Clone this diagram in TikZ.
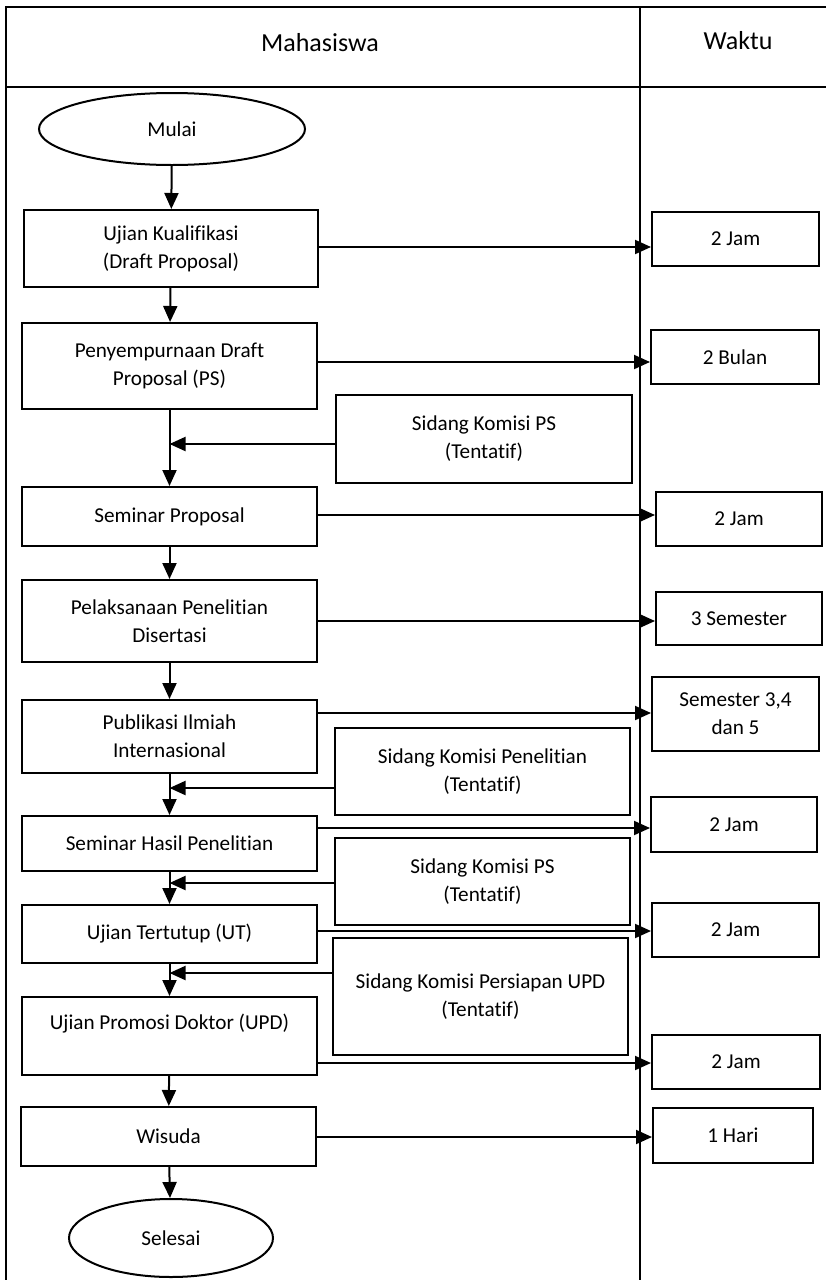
\documentclass[tikz,border=0pt]{standalone}
\usepackage{fontspec}
\setmainfont{Carlito}[Ligatures=NoCommon]
\usetikzlibrary{arrows.meta,shapes.geometric}
\newcommand\pbox[6]{\node[box, minimum width={(#4-#2)*0.5pt}, minimum height={(#5-#3)*0.5pt}] (#1) at ({(#2+#4)/2},{(#3+#5)/2}) {#6};}
\begin{document}
\begin{tikzpicture}[x=0.5pt,y=-0.5pt,
  box/.style={draw, line width=1pt, inner sep=0pt, align=center, font=\fontsize{10.6}{14}\selectfont},
  oval/.style={box, ellipse},
  arr/.style={line width=1pt, -{Triangle[length=8pt,width=7pt]}},
  lane/.style={line width=1pt},
  head/.style={font=\fontsize{13}{16}\selectfont}]
\useasboundingbox (0,0) rectangle (826,1280);
% swimlane frame
\coordinate (tl) at (6,7);
\coordinate (tr) at (826,7);
\coordinate (bl) at (6,1280);
\coordinate (hl) at (6,87);
\coordinate (hr) at (826,87);
\coordinate (dt) at (640,7);
\coordinate (db) at (640,1280);
\draw[lane] (tr) -- (tl) -- (bl);
\draw[lane] (hl) -- (hr);
\draw[lane] (dt) -- (db);
\node[head] (hm) at (320,43) {Mahasiswa};
\node[head] (hw) at (738,41) {Waktu};
% start / end
\node[oval, minimum width=133pt, minimum height=36pt] (start) at (172,129) {Mulai};
\node[oval, minimum width=102pt, minimum height=39pt] (end) at (171,1238) {Selesai};
% main column
\pbox{b1}{24}{210}{318}{287}{Ujian Kualifikasi\\(Draft Proposal)}
\pbox{b2}{22}{323}{317}{409}{Penyempurnaan Draft\\Proposal (PS)}
\pbox{b3}{22}{487}{317}{546}{Seminar Proposal}
\pbox{b4}{22}{580}{317}{662}{Pelaksanaan Penelitian\\Disertasi}
\pbox{b5}{22}{700}{317}{773}{Publikasi Ilmiah\\Internasional}
\pbox{b6}{22}{816}{317}{871}{Seminar Hasil Penelitian}
\pbox{b7}{22}{905}{317}{963}{Ujian Tertutup (UT)}
\pbox{b8}{22}{997}{317}{1075}{Ujian Promosi Doktor (UPD)\\~}
\pbox{b9}{21}{1107}{316}{1166}{Wisuda}
% sidang boxes
\pbox{sA}{336}{395}{632}{483}{Sidang Komisi PS\\(Tentatif)}
\pbox{sB}{335}{728}{630}{815}{Sidang Komisi Penelitian\\(Tentatif)}
\pbox{sC}{335}{838}{630}{925}{Sidang Komisi PS\\(Tentatif)}
\pbox{sD}{333}{938}{628}{1055}{Sidang Komisi Persiapan UPD\\(Tentatif)}
% time boxes
\pbox{r1}{652}{212}{819}{266}{2 Jam}
\pbox{r2}{651}{330}{819}{384}{2 Bulan}
\pbox{r3}{656}{492}{822}{546}{2 Jam}
\pbox{r4}{656}{592}{822}{645}{3 Semester}
\pbox{r5}{652}{677}{819}{751}{Semester 3,4\\dan 5}
\pbox{r6}{651}{797}{817}{852}{2 Jam}
\pbox{r7}{652}{903}{819}{957}{2 Jam}
\pbox{r8}{652}{1035}{820}{1089}{2 Jam}
\pbox{r9}{653}{1108}{813}{1163}{1 Hari}
% vertical flow
\draw[arr] (start) -- (b1);
\draw[arr] (b1) -- (b2);
\draw[arr] (b2) -- (b3);
\draw[arr] (b3) -- (b4);
\draw[arr] (b4) -- (b5);
\draw[arr] (b5) -- (b6);
\draw[arr] (b6) -- (b7);
\draw[arr] (b7) -- (b8);
\draw[arr] (b8) -- (b9);
\draw[arr] (b9) -- (end);
% time arrows
\coordinate (a1) at (0,247);
\coordinate (a2) at (0,362);
\coordinate (a3) at (0,515);
\coordinate (a4) at (0,621);
\coordinate (a5) at (0,713);
\coordinate (a6) at (0,828);
\coordinate (a7) at (0,931);
\coordinate (a8) at (0,1063);
\coordinate (a9) at (0,1137);
\draw[arr] (b1.east |- a1) -- (r1.west |- a1);
\draw[arr] (b2.east |- a2) -- (r2.west |- a2);
\draw[arr] (b3.east |- a3) -- (r3.west |- a3);
\draw[arr] (b4.east |- a4) -- (r4.west |- a4);
\draw[arr] (b5.east |- a5) -- (r5.west |- a5);
\draw[arr] (b6.east |- a6) -- (r6.west |- a6);
\draw[arr] (b7.east |- a7) -- (r7.west |- a7);
\draw[arr] (b8.east |- a8) -- (r8.west |- a8);
\draw[arr] (b9.east |- a9) -- (r9.west |- a9);
% sidang arrows
\coordinate (s1) at (0,444);
\coordinate (s2) at (0,788);
\coordinate (s3) at (0,883);
\coordinate (s4) at (0,973);
\draw[arr] (sA.west |- s1) -- (b2.south |- s1);
\draw[arr] (sB.west |- s2) -- (b5.south |- s2);
\draw[arr] (sC.west |- s3) -- (b6.south |- s3);
\draw[arr] (sD.west |- s4) -- (b7.south |- s4);
\end{tikzpicture}
\end{document}
